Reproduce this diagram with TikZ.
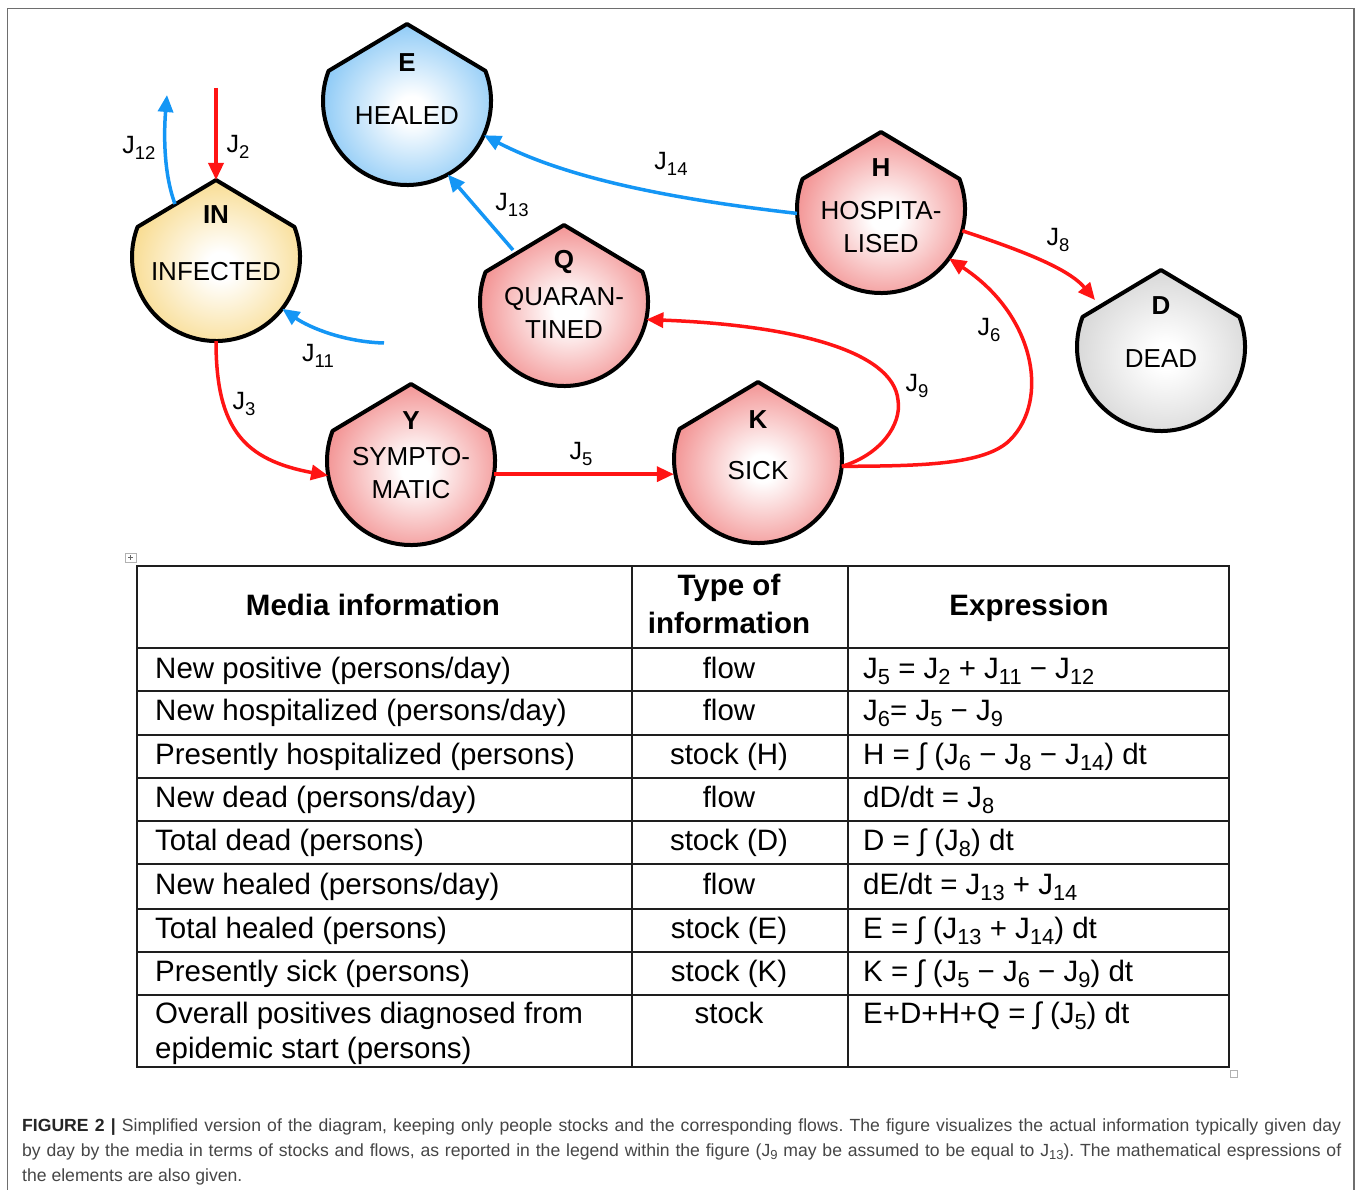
\documentclass[tikz,border=0pt]{standalone}
\usepackage{fontspec}
\setmainfont{Liberation Sans}
\newfontfamily\capfont{Liberation Sans}
\usepackage{graphicx}
\usetikzlibrary{calc,arrows.meta}
\frenchspacing

\definecolor{redfill}{RGB}{234,72,72}
\definecolor{yellowfill}{RGB}{244,196,70}
\definecolor{bluefill}{RGB}{64,166,240}
\definecolor{grayfill}{RGB}{188,188,188}
\definecolor{arrred}{RGB}{255,20,20}
\definecolor{arrblue}{RGB}{20,150,245}
\definecolor{framec}{RGB}{110,110,110}
\definecolor{capgray}{RGB}{70,70,70}
\definecolor{tblc}{RGB}{30,30,30}
\colorlet{shout}{redfill}
\pgfdeclareradialshading[shout]{stockshade}{\pgfpoint{0bp}{0bp}}{color(0bp)=(white); color(4bp)=(white); color(40bp)=(shout); color(50bp)=(shout)}

\newcommand\JJ[1]{J\raisebox{-0.22em}{\scalebox{0.74}{#1}}}
\newcommand\stockshape[2]{%
  \colorlet{shout}{#2}%
  \path[shade,shading=stockshade,draw=black,line width=4pt,line join=round]
    ($(#1.center)+(159:84)$) -- ($(#1.center)+(0,77)$) -- ($(#1.center)+(21:84)$)
    arc[start angle=21,end angle=-201,radius=84] -- cycle;}

\tikzset{
  stock/.style={circle,minimum size=168pt,inner sep=0pt,draw=none},
  letter/.style={font=\fontsize{26}{30}\selectfont\bfseries,inner sep=0pt},
  sname/.style={font=\fontsize{26}{33}\selectfont,inner sep=0pt,align=center},
  lab/.style={font=\fontsize{25}{28}\selectfont,inner sep=0pt},
  redarr/.style={draw=arrred,line width=3.5pt,-{Triangle[length=17pt,width=15pt]}},
  bluearr/.style={draw=arrblue,line width=3.5pt,-{Triangle[length=17pt,width=15pt]}},
  tbl/.style={draw=tblc,line width=1.8pt},
  td/.style={font=\fontsize{29.5}{35}\selectfont,inner sep=0pt,anchor=base west},
  tc/.style={font=\fontsize{29.5}{35}\selectfont,inner sep=0pt,anchor=base},
  th/.style={font=\fontsize{29.5}{35}\selectfont\bfseries,inner sep=0pt,anchor=base},
  captext/.style={font=\capfont\fontsize{17.6}{20}\selectfont,text=capgray,inner sep=0pt,anchor=base west},
}

\begin{document}
\begin{tikzpicture}[x=1pt,y=1pt]
\useasboundingbox (0,0) rectangle (1360,-1190);
\fill[white] (0,0) rectangle (1360,-1190);
\draw[framec,line width=1.6pt] (7.5,-1190) -- (7.5,-8.5) -- (1354,-8.5) -- (1354,-1190);

% stocks
\node[stock] (IN) at (216,-257) {};
\node[stock] (E) at (407,-101) {};
\node[stock] (H) at (881,-209) {};
\node[stock] (D) at (1161,-347) {};
\node[stock] (Q) at (564,-302) {};
\node[stock] (K) at (758,-459) {};
\node[stock] (Y) at (411,-461) {};

\stockshape{IN}{yellowfill}
\stockshape{E}{bluefill}
\stockshape{H}{redfill}
\stockshape{D}{grayfill}
\stockshape{Q}{redfill}
\stockshape{K}{redfill}
\stockshape{Y}{redfill}

\node[letter] (IN-l) at ($(IN)+(0,42)$) {IN};
\node[sname] (IN-n) at ($(IN)+(0,-15)$) {INFECTED};
\node[letter] (E-l) at ($(E)+(0,38)$) {E};
\node[sname] (E-n) at ($(E)+(0,-15)$) {HEALED};
\node[letter] (H-l) at ($(H)+(0,41)$) {H};
\node[sname] (H-n) at ($(H)+(0,-18)$) {HOSPITA-\\LISED};
\node[letter] (D-l) at ($(D)+(0,41)$) {D};
\node[sname] (D-n) at ($(D)+(0,-12)$) {DEAD};
\node[letter] (Q-l) at ($(Q)+(0,40)$) {Q};
\node[sname] (Q-n) at ($(Q)+(0,-11)$) {QUARAN-\\TINED};
\node[letter] (K-l) at ($(K)+(0,39)$) {K};
\node[sname] (K-n) at ($(K)+(0,-12)$) {SICK};
\node[letter] (Y-l) at ($(Y)+(0,40)$) {Y};
\node[sname] (Y-n) at ($(Y)+(0,-12)$) {SYMPTO-\\MATIC};

% free ends
\coordinate (j2s) at (216,-88);
\coordinate (j12e) at (167,-95);
\coordinate (j11s) at (384,-343);

% flows
\draw[redarr] (j2s) -- ($(IN.center)+(0,77)$);
\draw[bluearr] ($(IN.center)+(-41,53)$) .. controls (163,-172) and (164,-130) .. (j12e);
\draw[bluearr] (j11s) .. controls (345,-342) and (310,-328) .. (IN.-38);
\draw[redarr] (IN.south) .. controls (216,-430) and (245,-460) .. (Y.-170);
\draw[redarr] (Y.-9) -- (Y.-9 -| K.west);
\draw[redarr] (K.-5) .. controls (880,-455) and (902,-425) .. (898,-400) .. controls (893,-350) and (790,-325) .. (Q.-12);
\draw[redarr] (K.-5) .. controls (920,-466) and (985,-465) .. (1010,-440) .. controls (1050,-400) and (1035,-315) .. (H.-36);
\draw[redarr] (H.-15) .. controls (1020,-250) and (1068,-268) .. ($(D.center)+(-66,47)$);
\draw[bluearr] (H.183) .. controls (680,-200) and (570,-180) .. (E.-24);
\draw[bluearr] ($(Q.center)+(-51,52)$) -- (E.-61);

% flow labels
\node[lab] (lJ12) at (139,-148) {\JJ{12}};
\node[lab] (lJ2) at (238,-147) {\JJ{2}};
\node[lab] (lJ13) at (512,-205) {\JJ{13}};
\node[lab] (lJ14) at (671,-164) {\JJ{14}};
\node[lab] (lJ8) at (1058,-240) {\JJ{8}};
\node[lab] (lJ6) at (989,-330) {\JJ{6}};
\node[lab] (lJ9) at (917,-386) {\JJ{9}};
\node[lab] (lJ5) at (581,-454) {\JJ{5}};
\node[lab] (lJ3) at (244,-404) {\JJ{3}};
\node[lab] (lJ11) at (318,-356) {\JJ{11}};

% table
\draw[gray!60,line width=0.8pt] (125,-553) rectangle (136,-562);
\draw[gray!80!black,line width=0.7pt] (128,-557.5) -- (133,-557.5) (130.5,-555) -- (130.5,-560);
\draw[tbl] (137,-566) rectangle (1229,-1067);
\foreach \yy in {648,691,735,778,821,864,909,952,995} \draw[tbl] (137,-\yy) -- (1229,-\yy);
\draw[tbl] (632,-566) -- (632,-1067);
\draw[tbl] (848,-566) -- (848,-1067);
\draw[gray!60,line width=0.8pt] (1230.5,-1070.5) rectangle (1237.5,-1077.5);

\node[th] (h1) at (373,-615) {Media information};
\node[th] (h2a) at (729,-595) {Type of};
\node[th] (h2b) at (729,-633) {information};
\node[th] (h3) at (1029,-615) {Expression};

\node[td] (a1) at (155,-678) {New positive (persons/day)};
\node[tc] (b1) at (729,-678) {flow};
\node[td] (c1) at (863,-678) {\JJ{5} = \JJ{2} + \JJ{11} − \JJ{12}};
\node[td] (a2) at (155,-720) {New hospitalized (persons/day)};
\node[tc] (b2) at (729,-720) {flow};
\node[td] (c2) at (863,-720) {\JJ{6}= \JJ{5} − \JJ{9}};
\node[td] (a3) at (155,-764) {Presently hospitalized (persons)};
\node[tc] (b3) at (729,-764) {stock (H)};
\node[td] (c3) at (863,-764) {H = ∫ (\JJ{6} − \JJ{8} − \JJ{14}) dt};
\node[td] (a4) at (155,-807) {New dead (persons/day)};
\node[tc] (b4) at (729,-807) {flow};
\node[td] (c4) at (863,-807) {dD/dt = \JJ{8}};
\node[td] (a5) at (155,-850) {Total dead (persons)};
\node[tc] (b5) at (729,-850) {stock (D)};
\node[td] (c5) at (863,-850) {D = ∫ (\JJ{8}) dt};
\node[td] (a6) at (155,-894) {New healed (persons/day)};
\node[tc] (b6) at (729,-894) {flow};
\node[td] (c6) at (863,-894) {dE/dt = \JJ{13} + \JJ{14}};
\node[td] (a7) at (155,-938) {Total healed (persons)};
\node[tc] (b7) at (729,-938) {stock (E)};
\node[td] (c7) at (863,-938) {E = ∫ (\JJ{13} + \JJ{14}) dt};
\node[td] (a8) at (155,-981) {Presently sick (persons)};
\node[tc] (b8) at (729,-981) {stock (K)};
\node[td] (c8) at (863,-981) {K = ∫ (\JJ{5} − \JJ{6} − \JJ{9}) dt};
\node[td] (a9) at (155,-1023) {Overall positives diagnosed from};
\node[td] (a9b) at (155,-1058) {epidemic start (persons)};
\node[tc] (b9) at (729,-1023) {stock};
\node[td] (c9) at (863,-1023) {E+D+H+Q = ∫ (\JJ{5}) dt};

% caption
\node[captext] (cap1) at (22,-1131) {\makebox[1319pt][s]{\textbf{\color{black!85}FIGURE 2 |} Simplified version of the diagram, keeping only people stocks and the corresponding flows. The figure visualizes the actual information typically given day}};
\node[captext] (cap2) at (22,-1156) {\makebox[1319pt][s]{by day by the media in terms of stocks and flows, as reported in the legend within the figure (\JJ{9} may be assumed to be equal to \JJ{13}). The mathematical espressions of}};
\node[captext] (cap3) at (22,-1181) {the elements are also given.};
\end{tikzpicture}
\end{document}
